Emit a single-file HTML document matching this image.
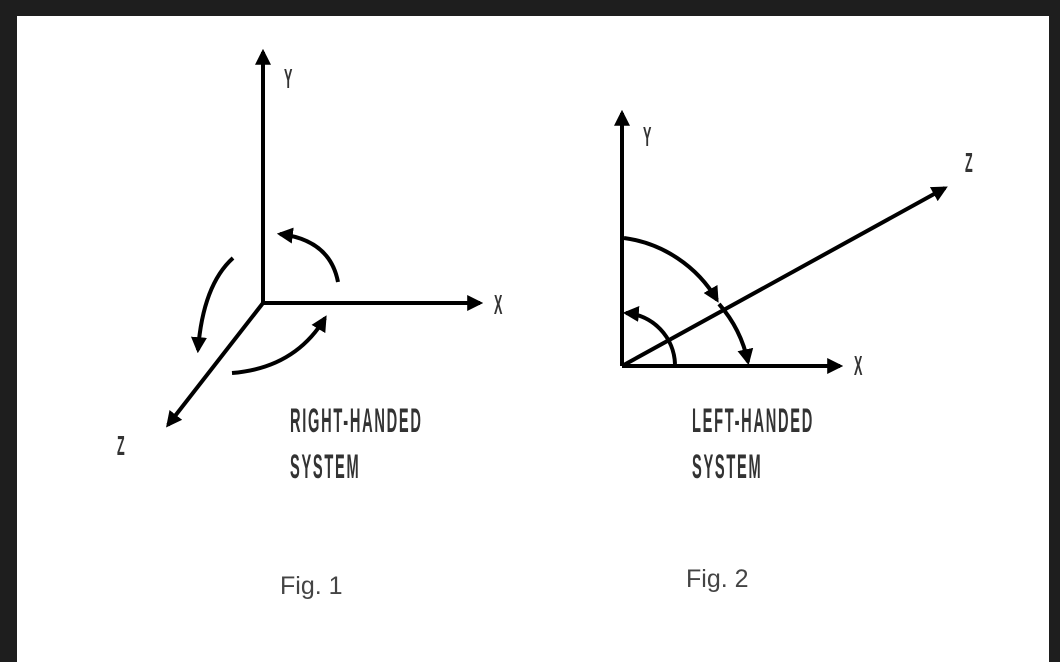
<!DOCTYPE html>
<html><head><meta charset="utf-8"><style>
html,body{margin:0;padding:0;background:#1e1e1e;}
svg{display:block}
.lbl{font-family:"Liberation Sans",sans-serif;font-weight:bold;fill:#333;}
.fig{font-family:"Liberation Sans",sans-serif;font-size:25px;fill:#444;}
</style></head><body>
<svg width="1060" height="662" viewBox="0 0 1060 662">
<defs>
<marker id="ah" viewBox="0 0 10 10" refX="8" refY="5" markerWidth="4" markerHeight="4" orient="auto"><path d="M0,0 L10,5 L0,10 z" fill="#000"/></marker>
</defs>
<rect x="0" y="0" width="1060" height="662" fill="#1e1e1e"/>
<rect x="17" y="16" width="1032" height="646" fill="#fff"/>

<g stroke="#000" stroke-width="4" fill="none">
<line x1="263" y1="303" x2="263" y2="52" marker-end="url(#ah)"/>
<line x1="263" y1="303" x2="480" y2="303" marker-end="url(#ah)"/>
<line x1="263" y1="303" x2="168" y2="425" marker-end="url(#ah)"/>
<path d="M338,282 Q330,240 280,234" marker-end="url(#ah)"/>
<path d="M233,258 Q203,285 198,350" marker-end="url(#ah)"/>
<path d="M232,373 Q295,368 325,318" marker-end="url(#ah)"/>
</g>
<text class="lbl" x="284" y="88" font-size="28" transform="translate(284 0) scale(0.45 1) translate(-284 0)">Y</text>
<text class="lbl" x="494" y="314" font-size="28" transform="translate(494 0) scale(0.45 1) translate(-494 0)">X</text>
<text class="lbl" x="117" y="455" font-size="28" transform="translate(117 0) scale(0.45 1) translate(-117 0)">Z</text>
<text class="lbl" x="290" y="432" font-size="34" letter-spacing="4" transform="translate(290 0) scale(0.43 1) translate(-290 0)">RIGHT-HANDED</text>
<text class="lbl" x="290" y="478" font-size="34" letter-spacing="4" transform="translate(290 0) scale(0.43 1) translate(-290 0)">SYSTEM</text>
<text class="fig" x="280" y="594">Fig. 1</text>

<g stroke="#000" stroke-width="4" fill="none">
<line x1="622" y1="366" x2="622" y2="113" marker-end="url(#ah)"/>
<line x1="622" y1="366" x2="840" y2="366" marker-end="url(#ah)"/>
<line x1="622" y1="366" x2="945" y2="188" marker-end="url(#ah)"/>
<path d="M624,238 A128,128 0 0 1 717,300" marker-end="url(#ah)"/>
<path d="M719,304 A128,128 0 0 1 748,362" marker-end="url(#ah)"/>
<path d="M675,364 A53,53 0 0 0 626,313" marker-end="url(#ah)"/>
</g>
<text class="lbl" x="643" y="146" font-size="28" transform="translate(643 0) scale(0.45 1) translate(-643 0)">Y</text>
<text class="lbl" x="854" y="375" font-size="28" transform="translate(854 0) scale(0.45 1) translate(-854 0)">X</text>
<text class="lbl" x="965" y="172" font-size="28" transform="translate(965 0) scale(0.45 1) translate(-965 0)">Z</text>
<text class="lbl" x="692" y="432" font-size="34" letter-spacing="4" transform="translate(692 0) scale(0.43 1) translate(-692 0)">LEFT-HANDED</text>
<text class="lbl" x="692" y="478" font-size="34" letter-spacing="4" transform="translate(692 0) scale(0.43 1) translate(-692 0)">SYSTEM</text>
<text class="fig" x="686" y="587">Fig. 2</text>
</svg>
</body></html>
